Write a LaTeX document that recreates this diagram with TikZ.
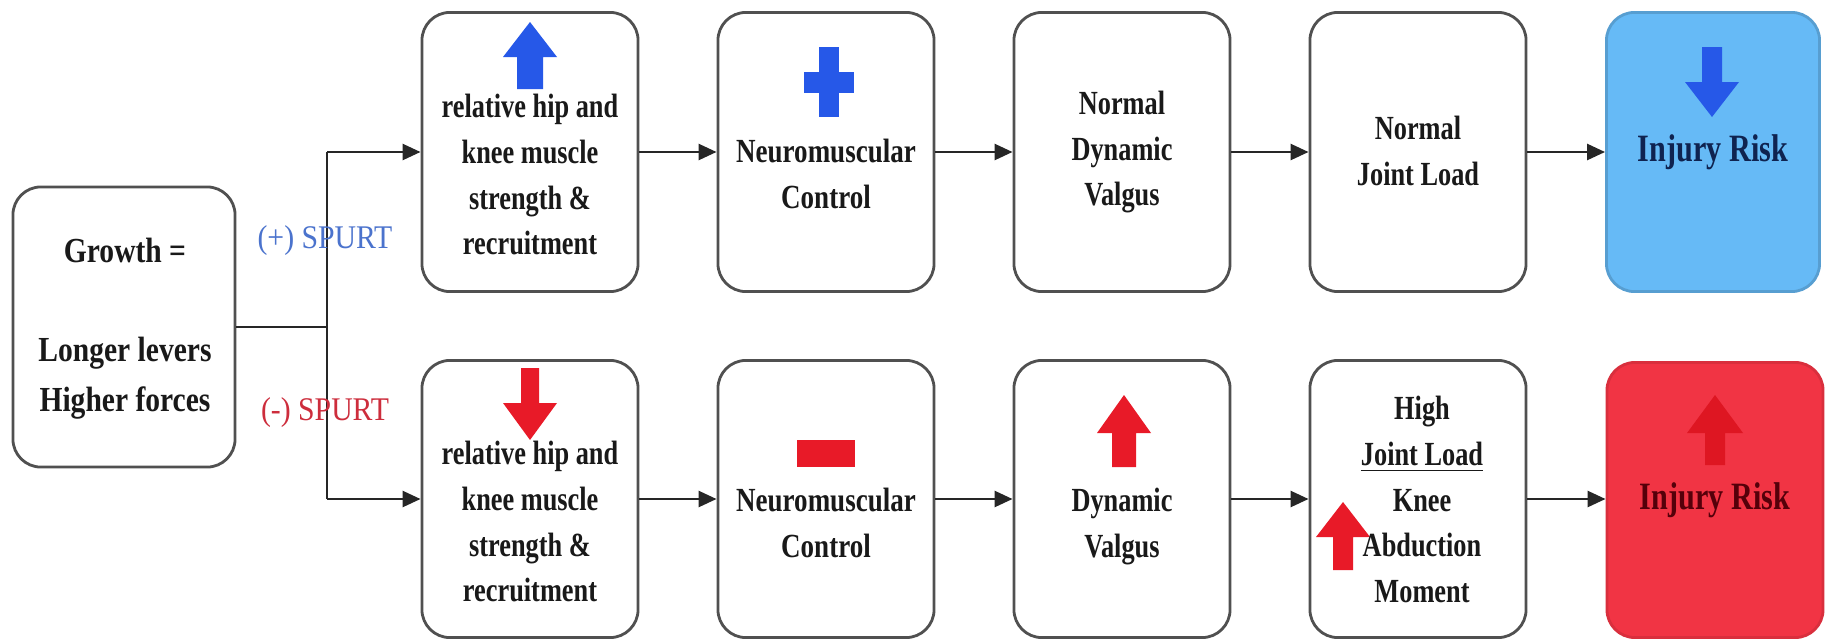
\documentclass[tikz,border=0pt]{standalone}
\usepackage{fontspec}
\setmainfont{Liberation Serif}
\usetikzlibrary{arrows.meta}
\definecolor{iconblue}{RGB}{38,88,232}
\definecolor{iconred}{RGB}{232,26,40}
\definecolor{iconredd}{RGB}{222,22,34}
\definecolor{boxblue}{RGB}{102,186,246}
\definecolor{boxred}{RGB}{241,52,68}
\definecolor{edgegray}{RGB}{80,80,80}
\definecolor{spurtblue}{RGB}{75,115,205}
\definecolor{spurtred}{RGB}{205,45,60}
\definecolor{navytext}{RGB}{15,35,80}
\definecolor{darkredtext}{RGB}{85,0,10}
\newcommand{\txtblock}[2]{\scalebox{#1}[1]{\begin{tabular}{@{}c@{}}#2\end{tabular}}}
\newcommand{\iconarrow}[7]{\fill[#7] (#1,#2) -- (#1+#5,#3) -- (#1+#6,#3) -- (#1+#6,#4) -- (#1-#6,#4) -- (#1-#6,#3) -- (#1-#5,#3) -- cycle;}
\begin{document}
\begin{tikzpicture}[x=0.01cm,y=-0.01cm,
  box/.style={draw=edgegray, line width=0.8pt, rounded corners=0.28cm,
    minimum width=2.16cm, minimum height=2.79cm, fill=white, inner sep=0pt},
  conn/.style={draw=black!85, line width=0.75pt},
  arr/.style={conn, -{Triangle[length=0.18cm,width=0.16cm]}},
  lbl/.style={font=\fontsize{9.6}{13}\selectfont\bfseries, text=black!90, inner sep=0pt},
  bigl/.style={font=\fontsize{11}{13}\selectfont\bfseries, inner sep=0pt},
  spurt/.style={font=\fontsize{9.4}{12}\selectfont, inner sep=0pt}]
\useasboundingbox[fill=white] (0,0) rectangle (1827,639);

% boxes
\node[box, minimum width=2.22cm, minimum height=2.80cm] (g) at (124,327) {};
\node[box] (t1) at (530,152) {};
\node[box] (t2) at (826,152) {};
\node[box] (t3) at (1122,152) {};
\node[box] (t4) at (1418,152) {};
\node[box, draw=boxblue!85!black, fill=boxblue, minimum width=2.13cm] (t5) at (1713,152) {};
\node[box, minimum height=2.77cm] (b1) at (530,499) {};
\node[box, minimum height=2.77cm] (b2) at (826,499) {};
\node[box, minimum height=2.77cm] (b3) at (1122,499) {};
\node[box, minimum height=2.77cm] (b4) at (1418,499) {};
\node[box, draw=boxred!90!black, fill=boxred, minimum height=2.75cm] (b5) at (1715,500) {};

% connectors
\coordinate (jt) at (327,327);
\coordinate (jtop) at (327,152);
\coordinate (jbot) at (327,499);
\draw[conn] (g.east) -- (jt);
\draw[conn] (jtop) -- (jbot);
\draw[arr] (jtop) -- (t1.west);
\draw[arr] (jbot) -- (b1.west);
\draw[arr] (t1) -- (t2);
\draw[arr] (t2) -- (t3);
\draw[arr] (t3) -- (t4);
\draw[arr] (t4) -- (t5);
\draw[arr] (b1) -- (b2);
\draw[arr] (b2) -- (b3);
\draw[arr] (b3) -- (b4);
\draw[arr] (b4.east) -- (b5.west |- b4.east);

% icons
\iconarrow{530}{22}{57}{89}{27}{13}{iconblue}
\fill[iconblue] (819,47) rectangle (839,117);
\fill[iconblue] (804,72) rectangle (854,93);
\iconarrow{1712}{117}{82}{47}{27}{10}{iconblue}
\iconarrow{530}{440}{403}{368}{27}{9}{iconred}
\fill[iconred] (797,440) rectangle (855,467);
\iconarrow{1124}{395}{433}{467}{27}{12}{iconred}
\iconarrow{1343}{502}{537}{570}{27}{10}{iconred}
\iconarrow{1715}{395}{433}{465}{28}{10}{iconredd}

% texts
\node[lbl, font=\fontsize{10}{14.2}\selectfont\bfseries] (gtxt) at (125,327)
  {\txtblock{0.84}{Growth =\\ \\Longer levers\\Higher forces}};
\node[spurt, text=spurtblue] (sp1) at (325,241) {\scalebox{0.9}[1]{(+) SPURT}};
\node[spurt, text=spurtred] (sp2) at (325,413) {\scalebox{0.9}[1]{(-) SPURT}};

\node[lbl] (t1txt) at (530,177) {\txtblock{0.78}{relative hip and\\knee muscle\\strength \&\\recruitment}};
\node[lbl] (t2txt) at (826,176) {\txtblock{0.8}{Neuromuscular\\Control}};
\node[lbl] (t3txt) at (1122,151) {\txtblock{0.78}{Normal\\Dynamic\\Valgus}};
\node[lbl] (t4txt) at (1418,153) {\txtblock{0.78}{Normal\\Joint Load}};
\node[bigl, text=navytext] (t5txt) at (1713,152) {\scalebox{0.78}[1]{Injury Risk}};

\node[lbl] (b1txt) at (530,524) {\txtblock{0.78}{relative hip and\\knee muscle\\strength \&\\recruitment}};
\node[lbl] (b2txt) at (826,525) {\txtblock{0.8}{Neuromuscular\\Control}};
\node[lbl] (b3txt) at (1122,525) {\txtblock{0.78}{Dynamic\\Valgus}};
\node[lbl] (b4txt) at (1422,502) {\txtblock{0.78}{High\\\underline{Joint Load}\\Knee\\Abduction\\Moment}};
\node[bigl, text=darkredtext] (b5txt) at (1715,500) {\scalebox{0.78}[1]{Injury Risk}};
\end{tikzpicture}
\end{document}
